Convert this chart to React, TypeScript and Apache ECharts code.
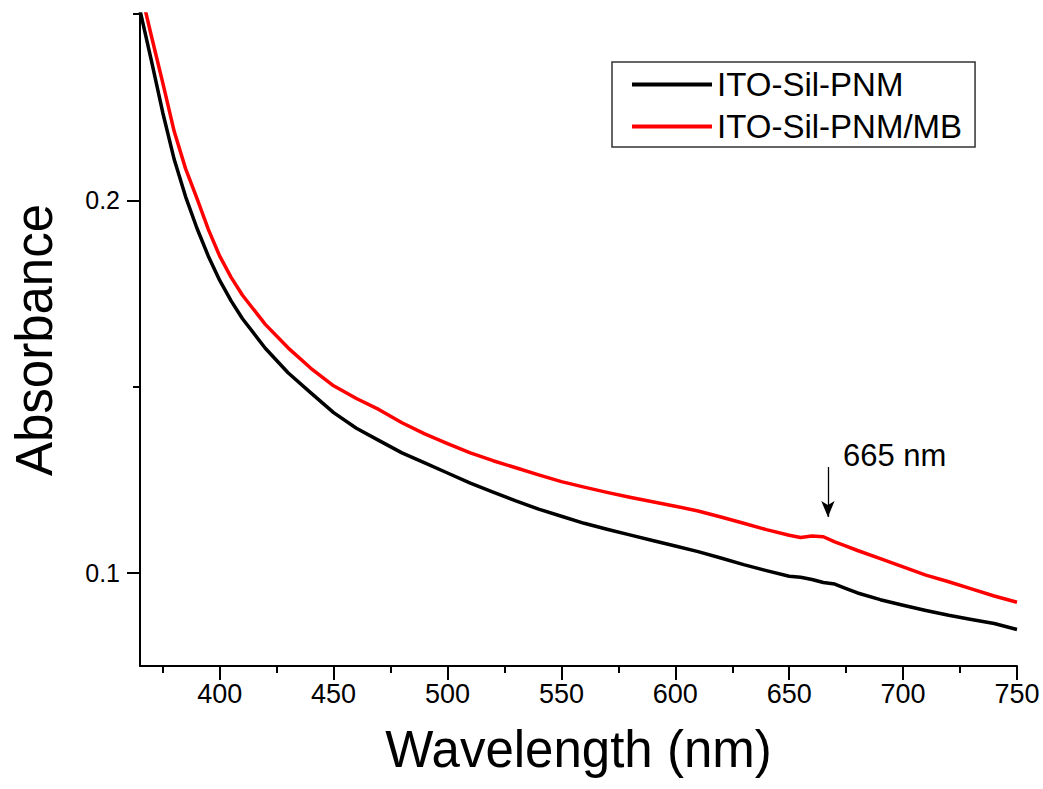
import React, { useEffect, useRef } from "react";
import * as echarts from "echarts";

const wavelengths = [365, 370, 375, 380, 385, 390, 395, 400, 405, 410, 420, 430, 440, 450, 460, 470, 480, 490, 500, 510, 520, 530, 540, 550, 560, 570, 580, 590, 600, 610, 620, 630, 640, 650, 655, 660, 665, 670, 675, 680, 690, 700, 710, 720, 730, 740, 750];

const pnm = [0.251, 0.2375, 0.2235, 0.2110, 0.2010, 0.1925, 0.1850, 0.1785, 0.1730, 0.1682, 0.1603, 0.1537, 0.1483, 0.1430, 0.1388, 0.1355, 0.1322, 0.1295, 0.1268, 0.1241, 0.1217, 0.1193, 0.1171, 0.1152, 0.1133, 0.1117, 0.1102, 0.1087, 0.1072, 0.1057, 0.1040, 0.1022, 0.1006, 0.0991, 0.0988, 0.0982, 0.0974, 0.0970, 0.0958, 0.0946, 0.0928, 0.0913, 0.0899, 0.0886, 0.0875, 0.0864, 0.0848];

const pnmMB = [0.257, 0.2441, 0.2315, 0.2185, 0.2085, 0.2005, 0.1922, 0.1850, 0.1793, 0.1745, 0.1667, 0.1604, 0.1549, 0.1502, 0.1468, 0.1438, 0.1403, 0.1373, 0.1347, 0.1322, 0.1301, 0.1282, 0.1263, 0.1245, 0.1230, 0.1216, 0.1203, 0.1191, 0.1179, 0.1166, 0.1150, 0.1133, 0.1116, 0.1101, 0.1095, 0.1099, 0.1097, 0.1083, 0.1072, 0.1060, 0.1038, 0.1016, 0.0994, 0.0976, 0.0957, 0.0938, 0.0921];

const seriesNames = ["ITO-Sil-PNM", "ITO-Sil-PNM/MB"];
const xMajorTicks = [400, 450, 500, 550, 600, 650, 700, 750];
const xMinorTicks = [375, 425, 475, 525, 575, 625, 675, 725];
const yMajorTicks = [0.1, 0.2];
const yMinorTicks = [0.15, 0.25];
const annotationText = "665 nm";
const arrowX = 667;
const arrowFrom = 0.1284;
const arrowTo = 0.115;

const FONT = "'Liberation Sans', Arial, sans-serif";
const NARROW = "'Liberation Sans Narrow', 'Liberation Sans', Arial, sans-serif";

export default function App() {
  const ref = useRef<HTMLDivElement>(null);
  useEffect(() => {
    if (!ref.current) return;
    const chart = echarts.init(ref.current, undefined, { renderer: "svg" });
    const xBase = { type: "value", min: 365, max: 750, gridIndex: 0, position: "bottom", splitLine: { show: false } };
    const yBase = { type: "value", min: 0.075, max: 0.25, gridIndex: 0, position: "left", splitLine: { show: false } };
    chart.setOption({
      animation: false,
      backgroundColor: "#ffffff",
      grid: { left: 140, right: 26, top: 14, bottom: 123 },
      legend: {
        orient: "vertical",
        left: 612,
        top: 62,
        padding: [6, 13, 4, 20],
        itemGap: 9,
        itemWidth: 80,
        itemHeight: 4,
        icon: "rect",
        borderColor: "#333",
        borderWidth: 1.5,
        textStyle: { fontSize: 33, fontFamily: FONT, color: "#000" },
        data: seriesNames,
      },
      xAxis: [
        {
          ...xBase,
          name: "Wavelength (nm)",
          nameLocation: "middle",
          nameGap: 58,
          nameTextStyle: { fontSize: 51, fontFamily: FONT, color: "#000" },
          axisLine: { show: true, lineStyle: { color: "#000", width: 2 } },
          axisTick: { show: true, inside: false, length: 14, lineStyle: { color: "#000", width: 2 }, customValues: xMajorTicks },
          axisLabel: { show: true, margin: 14, fontSize: 27, fontFamily: NARROW, color: "#000", customValues: xMajorTicks },
        },
        {
          ...xBase,
          axisLine: { show: false },
          axisTick: { show: true, inside: false, length: 7, lineStyle: { color: "#000", width: 2 }, customValues: xMinorTicks },
          axisLabel: { show: false },
        },
      ],
      yAxis: [
        {
          ...yBase,
          name: "Absorbance",
          nameLocation: "middle",
          nameRotate: 90,
          nameGap: 80,
          nameTextStyle: { fontSize: 51, fontFamily: FONT, color: "#000" },
          axisLine: { show: true, lineStyle: { color: "#000", width: 2 } },
          axisTick: { show: true, inside: false, length: 13, lineStyle: { color: "#000", width: 2 }, customValues: yMajorTicks },
          axisLabel: { show: true, margin: 20, fontSize: 25, fontFamily: FONT, color: "#000", customValues: yMajorTicks, formatter: (v: number) => String(Math.round(v * 10) / 10) },
        },
        {
          ...yBase,
          axisLine: { show: false },
          axisTick: { show: true, inside: false, length: 7, lineStyle: { color: "#000", width: 2 }, customValues: yMinorTicks },
          axisLabel: { show: false },
        },
      ],
      series: [
        {
          name: seriesNames[0],
          type: "line",
          xAxisIndex: 0,
          yAxisIndex: 0,
          symbol: "none",
          color: "#000000",
          lineStyle: { color: "#000000", width: 3.5, join: "round" },
          data: wavelengths.map((w, i) => [w, pnm[i]]),
          markLine: {
            silent: true,
            symbol: ["none", "arrow"],
            symbolSize: [10, 16],
            label: { show: false },
            itemStyle: { color: "#000" },
            lineStyle: { color: "#000", width: 1.3, type: "solid" },
            data: [[{ coord: [arrowX, arrowFrom] }, { coord: [arrowX, arrowTo] }]],
          },
        },
        {
          name: seriesNames[1],
          type: "line",
          xAxisIndex: 0,
          yAxisIndex: 0,
          symbol: "none",
          color: "#ff0000",
          lineStyle: { color: "#ff0000", width: 3.5, join: "round" },
          data: wavelengths.map((w, i) => [w, pnmMB[i]]),
        },
      ],
      graphic: [
        {
          type: "text",
          left: 843,
          top: 440,
          style: { text: annotationText, fontSize: 31, fontFamily: FONT, fill: "#000" },
        },
      ],
    });
    return () => chart.dispose();
  }, []);
  return <div ref={ref} style={{ position: "fixed", left: 0, top: 0, width: 1043, height: 789 }} />;
}
